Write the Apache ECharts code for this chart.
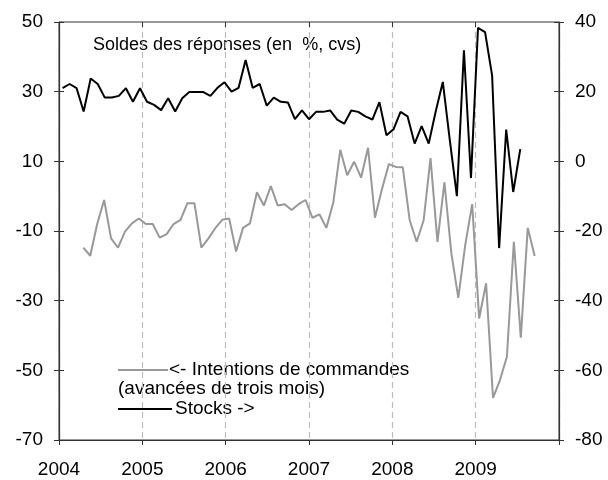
<!DOCTYPE html>
<html>
<head>
<meta charset="utf-8">
<script src="https://cdn.jsdelivr.net/npm/echarts@6/dist/echarts.min.js"></script>
<style>
html,body{margin:0;padding:0;background:#fff;}
#chart{width:608px;height:480px;}
</style>
</head>
<body>
<div id="chart"></div>
<script>
// Year tick labels
var yearLabels = [2004, 2005, 2006, 2007, 2008, 2009, 2010];
var leftTicks = [-70, -50, -30, -10, 10, 30, 50];
var rightTicks = [-80, -60, -40, -20, 0, 20, 40];

// Intentions de commandes (left axis), monthly Jan 2004 .. Dec 2009 (null = no data)
var intentions = [
  null, null, null,
  -14.8, -17.1, -8.0, -1.1, -12.1, -14.8, -10.2, -7.8, -6.4,
  -8.0, -8.0, -11.9, -10.9, -8.0, -6.8, -2.0, -2.0, -14.8, -12.2, -9.2, -6.8,
  -6.4, -15.9, -9.1, -7.8, 1.1, -2.7, 2.9, -2.7, -2.3, -4.0, -2.3, -1.1,
  -6.2, -5.2, -9.1, -1.8, 13.3, 6.0, 9.9, 5.3, 13.9, -6.2, 2.0, 9.2,
  8.4, 8.3, -6.9, -13.1, -7.0, 10.9, -13.1, 4.0, -16.4, -29.2, -14.0, -2.3,
  -35.1, -25.0, -57.9, -52.8, -46.1, -13.1, -40.6, -9.1, -17.2,
  null, null, null
];

// Stocks (right axis), on a 71-slot secondary category scale
var stocks = [
  21.0, 22.2, 21.0, 14.3, 23.8, 22.2, 18.3, 18.3, 18.8, 21.0, 17.1, 21.0,
  17.1, 16.2, 14.7, 18.1, 14.3, 18.1, 19.9, 19.9, 19.9, 18.8, 21.1, 22.7,
  20.0, 21.1, 29.1, 21.1, 22.2, 16.0, 18.3, 17.1, 16.9, 12.1, 14.6, 12.1,
  14.2, 14.2, 14.6, 12.0, 10.8, 14.6, 14.2, 12.9, 12.0, 17.0, 7.5, 9.2,
  14.2, 12.9, 5.1, 10.1, 5.1, 14.4, 22.8, 6.0, -10.0, 31.9, -4.8, 38.3,
  37.1, 24.7, -24.9, 9.1, -8.8, 3.5
];

var months = [];
for (var y = 2004; y < 2010; y++) {
  for (var m = 1; m <= 12; m++) months.push(y + '-' + (m < 10 ? '0' + m : m));
}
var stockSlots = months.slice(0, 71);

var FONT = "'Liberation Sans', Arial, sans-serif";
var axisColor = '#333';

var chart = echarts.init(document.getElementById('chart'), null, {renderer: 'canvas'});
chart.setOption({
  animation: false,
  backgroundColor: '#fff',
  textStyle: {fontFamily: FONT},
  grid: {left: 59, right: 49, top: 22, bottom: 40, show: true, borderColor: axisColor, borderWidth: 1, backgroundColor: 'transparent'},
  xAxis: [
    {
      type: 'value', min: yearLabels[0], max: yearLabels[yearLabels.length - 1], interval: 1,
      axisLine: {show: true, onZero: false, lineStyle: {color: axisColor, width: 1.2}},
      axisTick: {show: true, inside: false, length: 5, lineStyle: {color: axisColor}},
      axisLabel: {
        fontSize: 19, color: '#000', fontFamily: FONT, margin: 20,
        formatter: function (v) { return (v === 2010) ? '' : String(v); }
      },
      splitLine: {show: true, lineStyle: {color: '#bdbdbd', type: [6, 4], width: 1.2}}
    },
    {
      type: 'value', min: yearLabels[0], max: yearLabels[yearLabels.length - 1], interval: 1,
      axisLine: {show: false, onZero: false},
      axisTick: {show: true, inside: true, length: 5, lineStyle: {color: axisColor}},
      axisLabel: {show: false}, splitLine: {show: false}
    },
    {type: 'category', data: months, boundaryGap: true, show: false, axisLine: {onZero: false}},
    {type: 'category', data: stockSlots, boundaryGap: true, show: false, axisLine: {onZero: false}}
  ],
  yAxis: [
    {
      type: 'value', position: 'left', min: leftTicks[0], max: leftTicks[leftTicks.length - 1], interval: 20,
      axisLine: {show: true, onZero: false, lineStyle: {color: axisColor, width: 1.2}},
      axisTick: {show: true, inside: false, length: 5, lineStyle: {color: axisColor}},
      axisLabel: {fontSize: 19, color: '#000', fontFamily: FONT, margin: 16},
      splitLine: {show: false}
    },
    {
      type: 'value', position: 'right', min: rightTicks[0], max: rightTicks[rightTicks.length - 1], interval: 20,
      axisLine: {show: true, onZero: false, lineStyle: {color: axisColor, width: 1.2}},
      axisTick: {show: true, inside: false, length: 5, lineStyle: {color: axisColor}},
      axisLabel: {fontSize: 19, color: '#000', fontFamily: FONT, margin: 16},
      splitLine: {show: false}
    },
    {
      type: 'value', position: 'left', min: leftTicks[0], max: leftTicks[leftTicks.length - 1], interval: 20,
      axisLine: {show: false, onZero: false}, axisTick: {show: true, inside: true, length: 5, lineStyle: {color: axisColor}},
      axisLabel: {show: false}, splitLine: {show: false}
    },
    {
      type: 'value', position: 'right', min: rightTicks[0], max: rightTicks[rightTicks.length - 1], interval: 20,
      axisLine: {show: false, onZero: false}, axisTick: {show: true, inside: true, length: 5, lineStyle: {color: axisColor}},
      axisLabel: {show: false}, splitLine: {show: false}
    }
  ],
  series: [
    {
      name: '<- Intentions de commandes', type: 'line', xAxisIndex: 2, yAxisIndex: 0,
      data: intentions, showSymbol: false, symbol: 'none', connectNulls: false,
      lineStyle: {color: '#999999', width: 2}, itemStyle: {color: '#999999'}, z: 3
    },
    {
      name: 'Stocks ->', type: 'line', xAxisIndex: 3, yAxisIndex: 1,
      data: stocks, showSymbol: false, symbol: 'none',
      lineStyle: {color: '#000000', width: 2}, itemStyle: {color: '#000'}, z: 4
    }
  ],
  graphic: [
    {type: 'text', left: 93, top: 36, style: {text: 'Soldes des réponses (en  %, cvs)', font: '18px ' + FONT, fill: '#000'}},
    {type: 'line', shape: {x1: 118, y1: 370, x2: 168, y2: 370}, style: {stroke: '#999999', lineWidth: 2}},
    {type: 'text', left: 169, top: 360, style: {text: '<- Intentions de commandes', font: '19px ' + FONT, fill: '#000'}},
    {type: 'text', left: 118, top: 379, style: {text: '(avancées de trois mois)', font: '19px ' + FONT, fill: '#000'}},
    {type: 'line', shape: {x1: 118, y1: 409, x2: 172, y2: 409}, style: {stroke: '#000', lineWidth: 2}},
    {type: 'text', left: 175, top: 399, style: {text: 'Stocks ->', font: '19px ' + FONT, fill: '#000'}}
  ]
});
</script>
</body>
</html>
